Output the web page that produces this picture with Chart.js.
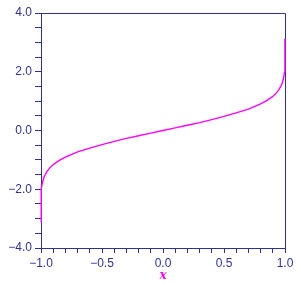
<!DOCTYPE html>
<html>
<head>
<meta charset="utf-8">
<script src="https://cdn.jsdelivr.net/npm/chart.js@4"></script>
<style>
html,body{margin:0;padding:0;background:#fff;}
#wrap{width:299px;height:285px;position:relative;}
</style>
</head>
<body>
<div id="wrap"><canvas id="c" width="299" height="285"></canvas></div>
<script>
// x values and values
const xValues = [-0.99999, -0.9999, -0.9995, -0.999, -0.998, -0.995, -0.99, -0.98, -0.97, -0.95, -0.93, -0.9, -0.85, -0.8, -0.7, -0.6, -0.5, -0.4, -0.3, -0.2, -0.1, 0,
                 0.1, 0.2, 0.3, 0.4, 0.5, 0.6, 0.7, 0.8, 0.85, 0.9, 0.93, 0.95, 0.97, 0.98, 0.99, 0.995, 0.998, 0.999, 0.9995, 0.9999, 0.99999];
const yValues = [-3.12, -2.75, -2.46, -2.33, -2.19, -1.98, -1.82, -1.65, -1.54, -1.39, -1.28, -1.16, -1.02, -0.91, -0.73, -0.60, -0.48, -0.37, -0.27, -0.18, -0.09, 0,
                 0.09, 0.18, 0.27, 0.37, 0.48, 0.60, 0.73, 0.91, 1.02, 1.16, 1.28, 1.39, 1.54, 1.65, 1.82, 1.98, 2.19, 2.33, 2.46, 2.75, 3.12];
const xTickLabels = ['\u22121.0', '\u22120.5', '0.0', '0.5', '1.0'];
const yTickLabels = ['\u22124.0', '\u22122.0', '0.0', '2.0', '4.0'];
const xTickValues = [-1, -0.5, 0, 0.5, 1];
const yTickValues = [-4, -2, 0, 2, 4];
const xTitle = 'x';

const axisColor = '#30309a';
const points = xValues.map((x, i) => ({x: x, y: yValues[i]}));

function labelFor(v, vals, labels) {
  for (let i = 0; i < vals.length; i++) if (Math.abs(v - vals[i]) < 1e-6) return labels[i];
  return '';
}

const frame = {
  id: 'frame',
  beforeDatasetsDraw(chart) {
    const a = chart.chartArea, ctx = chart.ctx;
    ctx.save();
    ctx.strokeStyle = axisColor;
    ctx.lineWidth = 1;
    ctx.beginPath();
    ctx.moveTo(a.left, a.top + 0.5);
    ctx.lineTo(a.right + 0.5, a.top + 0.5);
    ctx.lineTo(a.right + 0.5, a.bottom);
    ctx.stroke();
    ctx.restore();
  }
};

new Chart(document.getElementById('c'), {
  type: 'scatter',
  data: {
    datasets: [{
      data: points,
      showLine: true,
      borderColor: '#ff00ff',
      borderWidth: 1.4,
      pointRadius: 0,
      tension: 0,
      fill: false,
      clip: 2
    }]
  },
  options: {
    responsive: false,
    animation: false,
    devicePixelRatio: 1,
    layout: {padding: {top: 13, right: 14, left: 0, bottom: 0}},
    plugins: {legend: {display: false}, tooltip: {enabled: false}},
    scales: {
      x: {
        type: 'linear', min: -1, max: 1, z: -1,
        afterFit: s => { s.height = 37; },
        border: {display: true, color: axisColor, width: 1},
        grid: {drawOnChartArea: false, drawTicks: true, tickLength: 5, tickColor: axisColor},
        ticks: {
          stepSize: 0.1, autoSkip: false, maxRotation: 0, padding: 3,
          color: axisColor,
          font: {family: 'Liberation Sans, Arial, sans-serif', size: 12},
          callback: v => labelFor(v, xTickValues, xTickLabels)
        },
        title: {
          display: true, text: xTitle, color: '#ff00ff',
          font: {family: 'DejaVu Serif, serif', size: 12, style: 'italic', weight: 'bold'},
          padding: {top: 0, bottom: 2}
        }
      },
      y: {
        type: 'linear', min: -4, max: 4, z: -1,
        afterFit: s => { s.width = 41; },
        border: {display: true, color: axisColor, width: 1},
        grid: {drawOnChartArea: false, drawTicks: true, tickLength: 6, tickColor: axisColor},
        ticks: {
          stepSize: 0.5, autoSkip: false, padding: 3,
          color: axisColor,
          font: {family: 'Liberation Sans, Arial, sans-serif', size: 12},
          callback: v => labelFor(v, yTickValues, yTickLabels)
        }
      }
    }
  },
  plugins: [frame]
});
</script>
</body>
</html>
